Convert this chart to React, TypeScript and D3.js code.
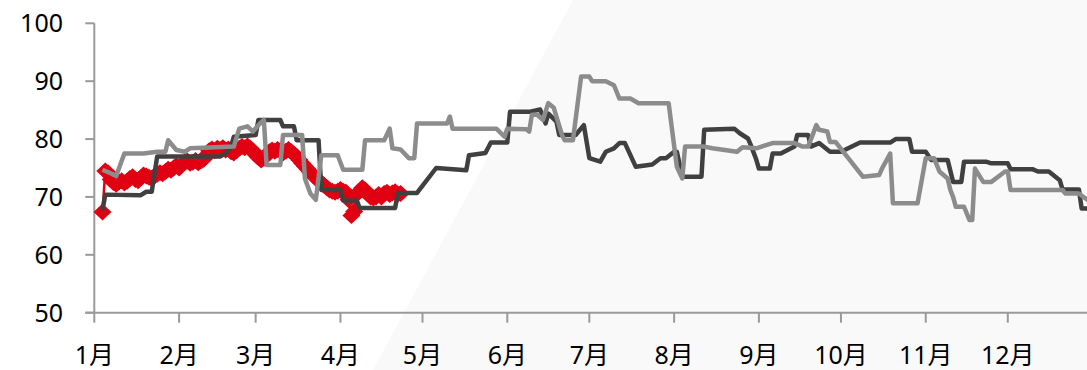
import React from "react";
import * as d3 from "d3";

// ---- data (day index from Jan 1, value) ----
const yTicks = [50, 60, 70, 80, 90, 100];
const monthLabels = ["1月", "2月", "3月", "4月", "5月", "6月", "7月", "8月", "9月", "10月", "11月", "12月"];

// current year (red diamonds), daily from day 3
const redStartDay = 3;
const redValues = [
  67.4, 74.5, 74.2, 73.0, 72.5, 72.2, 72.6, 72.8, 72.4,
  72.7, 73.2, 73.5, 73.0, 72.8, 73.3, 73.8, 73.6, 73.4, 73.2,
  73.6, 73.9, 74.2, 74.0, 74.4, 74.8, 74.6, 75.0, 75.4, 75.0,
  75.5, 76.0, 76.2, 75.8, 76.0, 76.3, 75.9, 76.2, 76.5, 77.2,
  78.0, 78.3, 78.0, 78.4, 78.2, 78.5, 78.1, 78.3, 77.8, 77.6,
  78.0, 78.4, 78.7, 78.5, 78.8, 78.4, 78.0, 77.3, 76.8, 76.4,
  76.7, 77.2, 77.8, 78.1, 77.9, 78.2, 78.0, 77.6, 77.9, 78.2,
  77.8, 77.4, 77.0, 76.4, 75.8, 75.3, 74.8, 74.2, 73.8, 73.3,
  72.8, 72.4, 72.0, 71.6, 71.2, 71.0, 70.8, 71.0, 71.3, 71.0,
  70.8, 69.5, 66.8, 67.5, 70.5, 71.0, 71.6, 71.2, 70.6, 70.0,
  69.8, 70.0, 70.4, 70.0, 70.6, 70.8, 70.4, 70.7, 70.9, 70.5,
  70.6,
];

const darkDays = [
  3, 4, 17, 19, 21, 23, 46, 48, 50, 51, 59, 60, 68, 69, 73, 74, 82, 83, 90, 91,
  96, 97, 110, 111, 118, 125, 136, 137, 143, 145, 151, 152, 159, 163, 165, 166, 169, 170, 176, 179,
  181, 185, 187, 190, 192, 194, 198, 204, 207, 209, 212, 213, 215, 222, 223, 234, 236, 239, 240, 242,
  243, 247, 248, 251, 256, 257, 261, 262, 265, 269, 273, 280, 291, 293, 298, 299, 304, 306, 312, 314,
  317, 318, 326, 328, 334, 335, 343, 345, 349, 353, 354, 360, 361, 364,
];
const darkValues = [
  67.7, 70.4, 70.3, 70.9, 70.9, 77.0, 77.0, 77.5, 78.7, 80.4, 80.7, 83.3, 83.3, 82.2, 82.2, 79.8, 79.8, 71.2, 71.2, 69.4,
  69.4, 68.1, 68.1, 70.7, 70.7, 75.0, 74.6, 77.2, 77.6, 79.4, 79.4, 84.7, 84.7, 85.1, 82.7, 84.4, 83.0, 80.7, 80.7, 82.4,
  76.7, 76.1, 77.8, 78.4, 79.3, 79.3, 75.2, 75.6, 76.7, 76.7, 77.8, 77.8, 73.5, 73.5, 81.6, 81.8, 81.0, 80.1, 79.0, 76.5,
  74.9, 74.9, 77.5, 77.5, 78.7, 80.7, 80.7, 78.7, 79.3, 77.8, 77.8, 79.4, 79.4, 80.0, 80.0, 77.8, 77.8, 76.4, 76.4, 72.6,
  72.6, 76.1, 76.1, 75.8, 75.8, 74.8, 74.8, 74.4, 74.4, 72.9, 71.3, 71.3, 68.0, 68.0,
];

const grayDays = [
  3, 6, 8, 11, 18, 23, 26, 27, 30, 33, 35, 51, 53, 56, 58, 60, 62, 63, 68, 69,
  76, 77, 79, 81, 83, 89, 91, 98, 99, 106, 108, 109, 112, 115, 117, 118, 129, 130, 131, 147,
  150, 151, 158, 159, 160, 162, 164, 166, 168, 171, 172, 175, 178, 181, 182, 187, 190, 192, 196, 199,
  210, 213, 215, 216, 223, 226, 235, 237, 242, 248, 256, 259, 261, 264, 265, 268, 269, 271, 281, 287,
  288, 291, 292, 301, 304, 307, 309, 312, 313, 314, 315, 318, 320, 321, 322, 325, 328, 333, 334, 335,
  354, 355, 360, 364,
];
const grayValues = [
  74.7, 74.1, 73.6, 77.5, 77.5, 77.8, 77.8, 79.8, 78.1, 77.8, 78.4, 78.7, 81.8, 82.2, 81.3, 82.4, 83.3, 75.5, 75.5, 80.7,
  80.7, 73.2, 70.6, 69.5, 77.2, 77.2, 74.7, 74.7, 79.8, 79.8, 81.8, 78.4, 78.2, 76.7, 76.7, 82.7, 82.7, 83.9, 81.8, 81.8,
  80.4, 81.8, 81.7, 81.3, 84.2, 84.2, 83.3, 86.2, 85.4, 80.7, 79.8, 79.8, 90.8, 90.8, 90.0, 90.0, 89.3, 87.0, 87.0, 86.2,
  86.2, 75.2, 73.2, 78.7, 78.7, 78.4, 77.8, 78.6, 78.4, 79.3, 79.3, 78.7, 78.7, 82.4, 81.6, 81.3, 79.5, 79.5, 73.5, 73.8,
  74.9, 77.5, 68.9, 68.9, 76.7, 76.7, 74.4, 73.2, 71.2, 70.0, 68.3, 68.3, 66.0, 66.0, 74.9, 72.6, 72.6, 74.4, 74.4, 71.2,
  71.2, 70.6, 70.6, 69.2,
];

const W = 1087;
const H = 370;
const START = new Date(2023, 0, 1);
const END = new Date(2024, 0, 1);
const dayDate = (d: number) => d3.timeDay.offset(START, d);

export default function App() {
  const x = d3.scaleTime().domain([START, END]).range([94.3, 94.3 + 365 * 2.735]);
  const y = d3.scaleLinear().domain([50, 100]).range([312.7, 23.3]);
  const months = d3.timeMonth.range(START, END);

  const line = d3
    .line<[number, number]>()
    .x((p) => x(dayDate(p[0])))
    .y((p) => y(p[1]));

  const red: [number, number][] = redValues.map((v, i) => [redStartDay + i, v]);
  const dark: [number, number][] = darkDays.map((d, i) => [d, darkValues[i]]);
  const gray: [number, number][] = grayDays.map((d, i) => [d, grayValues[i]]);

  const rx = 9;
  const ry = 8.5;
  const diamond = `M0,${-ry}L${rx},0L0,${ry}L${-rx},0Z`;
  const axisColor = "#9a9a9a";
  const font = "'Noto Sans', 'Noto Sans CJK SC', sans-serif";
  const x0 = x(START);

  return (
    <svg
      width={W}
      height={H}
      style={{ position: "absolute", left: 0, top: 0, background: "#ffffff" }}
    >
      <polygon points={`373,${H} 573,0 ${W},0 ${W},${H}`} fill="#f9f9f9" />
      {/* y axis */}
      <line x1={x0} x2={x0} y1={y(100)} y2={y(50)} stroke={axisColor} strokeWidth={2} />
      {yTicks.map((t) => (
        <g key={t}>
          <line x1={x0 - 9} x2={x0} y1={y(t)} y2={y(t)} stroke={axisColor} strokeWidth={2} />
          <text
            x={63}
            y={y(t) + 9}
            textAnchor="end"
            fontFamily={font}
            fontSize={25}
            fill="#000"
          >
            {t}
          </text>
        </g>
      ))}
      {/* x axis */}
      <line x1={x0 - 9} x2={W} y1={y(50)} y2={y(50)} stroke={axisColor} strokeWidth={2} />
      {months.map((m, i) => (
        <g key={i}>
          <line x1={x(m)} x2={x(m)} y1={y(50)} y2={y(50) + 10} stroke={axisColor} strokeWidth={2} />
          <text
            x={x(m)}
            y={364}
            textAnchor="middle"
            fontFamily={font}
            fontSize={25}
            fill="#000"
          >
            {monthLabels[i]}
          </text>
        </g>
      ))}
      {/* red series */}
      <path d={line(red) || ""} fill="none" stroke="#e00012" strokeWidth={2.5} />
      {red.map((p, i) => (
        <path
          key={i}
          d={diamond}
          transform={`translate(${x(dayDate(p[0]))},${y(p[1])})`}
          fill="#e00012"
        />
      ))}
      {/* dark series */}
      <path
        d={line(dark) || ""}
        fill="none"
        stroke="#404040"
        strokeWidth={4.5}
        strokeLinejoin="round"
      />
      {/* gray series */}
      <path
        d={line(gray) || ""}
        fill="none"
        stroke="#8c8c8c"
        strokeWidth={4.5}
        strokeLinejoin="round"
      />
    </svg>
  );
}
